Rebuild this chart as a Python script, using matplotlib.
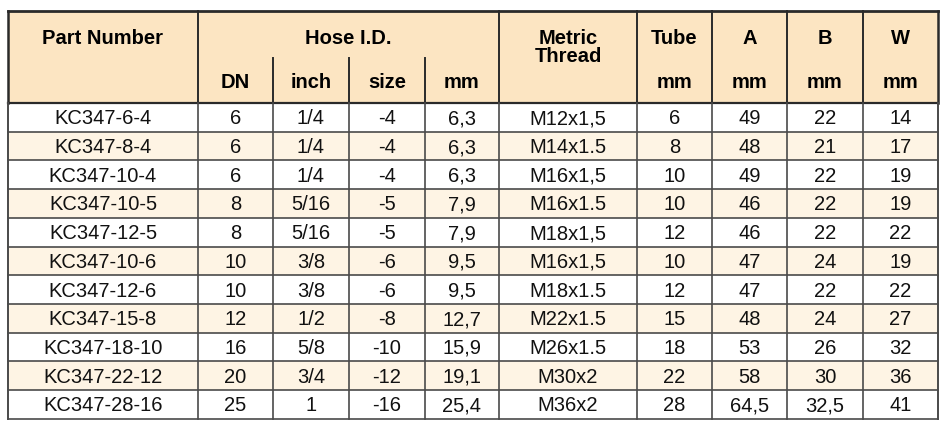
import matplotlib.pyplot as plt
from matplotlib.patches import Rectangle

plt.rcParams['font.family'] = ['Liberation Sans', 'DejaVu Sans']

part_numbers = ['KC347-6-4', 'KC347-8-4', 'KC347-10-4', 'KC347-10-5', 'KC347-12-5',
                'KC347-10-6', 'KC347-12-6', 'KC347-15-8', 'KC347-18-10', 'KC347-22-12',
                'KC347-28-16']
dn = ['6', '6', '6', '8', '8', '10', '10', '12', '16', '20', '25']
inch = ['1/4', '1/4', '1/4', '5/16', '5/16', '3/8', '3/8', '1/2', '5/8', '3/4', '1']
size = ['-4', '-4', '-4', '-5', '-5', '-6', '-6', '-8', '-10', '-12', '-16']
hose_mm = ['6,3', '6,3', '6,3', '7,9', '7,9', '9,5', '9,5', '12,7', '15,9', '19,1', '25,4']
thread = ['M12x1,5', 'M14x1.5', 'M16x1,5', 'M16x1.5', 'M18x1,5', 'M16x1,5', 'M18x1.5',
          'M22x1.5', 'M26x1.5', 'M30x2', 'M36x2']
tube = ['6', '8', '10', '10', '12', '10', '12', '15', '18', '22', '28']
dim_a = ['49', '48', '49', '46', '46', '47', '47', '48', '53', '58', '64,5']
dim_b = ['22', '21', '22', '22', '22', '24', '22', '24', '26', '30', '32,5']
dim_w = ['14', '17', '19', '19', '22', '19', '22', '27', '32', '36', '41']

columns = [part_numbers, dn, inch, size, hose_mm, thread, tube, dim_a, dim_b, dim_w]
sub_labels = ['', 'DN', 'inch', 'size', 'mm', '', 'mm', 'mm', 'mm', 'mm']

# layout in pixels
col_edges = [8, 198, 273, 349, 425, 499, 637, 712, 787, 863, 938]
top, head_bot, row_h = 12, 104, 28.7
n = len(part_numbers)
bottom = head_bot + n * row_h

head_color = '#fce5c2'
alt_color = '#fef4e4'
line_dark = '#2a2a2a'
line_body = '#4a4a4a'
fs = 14.5

fig = plt.figure(figsize=(9.53, 4.31), dpi=100)
ax = fig.add_axes([0, 0, 1, 1])
ax.set_xlim(0, 953)
ax.set_ylim(431, 0)
ax.axis('off')

# header background
ax.add_patch(Rectangle((col_edges[0], top), col_edges[-1] - col_edges[0], head_bot - top,
                       facecolor=head_color, edgecolor='none'))
# row backgrounds
for i in range(n):
    c = alt_color if i % 2 == 1 else 'white'
    ax.add_patch(Rectangle((col_edges[0], head_bot + i * row_h), col_edges[-1] - col_edges[0],
                           row_h, facecolor=c, edgecolor='none'))

# horizontal lines
ax.plot([col_edges[0], col_edges[-1]], [top, top], color=line_dark, lw=2)
ax.plot([col_edges[0], col_edges[-1]], [head_bot, head_bot], color=line_dark, lw=1.6)
for i in range(1, n + 1):
    y = head_bot + i * row_h
    ax.plot([col_edges[0], col_edges[-1]], [y, y], color=line_body, lw=1.2)

# vertical lines
for j, x in enumerate(col_edges):
    if j in (2, 3, 4):
        ax.plot([x, x], [59, head_bot], color=line_dark, lw=1.4)
    else:
        lw = 1.8 if j in (0, len(col_edges) - 1) else 1.4
        ax.plot([x, x], [top, head_bot], color=line_dark, lw=lw)
    ax.plot([x, x], [head_bot, bottom], color=line_body, lw=1.4 if j in (0, 10) else 1.2)

def cx(j):
    return (col_edges[j] + col_edges[j + 1]) / 2

# header text
ax.text(cx(0), 38, 'Part Number', ha='center', va='center', fontsize=fs, fontweight='bold')
ax.text((col_edges[1] + col_edges[5]) / 2, 38, 'Hose I.D.', ha='center', va='center',
        fontsize=fs, fontweight='bold')
ax.text(cx(5), 38, 'Metric', ha='center', va='center', fontsize=fs, fontweight='bold')
ax.text(cx(5), 57, 'Thread', ha='center', va='center', fontsize=fs, fontweight='bold')
for j, t in zip([6, 7, 8, 9], ['Tube', 'A', 'B', 'W']):
    ax.text(cx(j), 38, t, ha='center', va='center', fontsize=fs, fontweight='bold')
for j, t in enumerate(sub_labels):
    if t:
        ax.text(cx(j), 82, t, ha='center', va='center', fontsize=fs, fontweight='bold')

# body text
for i in range(n):
    y = head_bot + (i + 0.5) * row_h + 0.5
    for j, col in enumerate(columns):
        ax.text(cx(j), y, col[i], ha='center', va='center', fontsize=fs, color='#111111')

fig.savefig('out.png', dpi=100)
